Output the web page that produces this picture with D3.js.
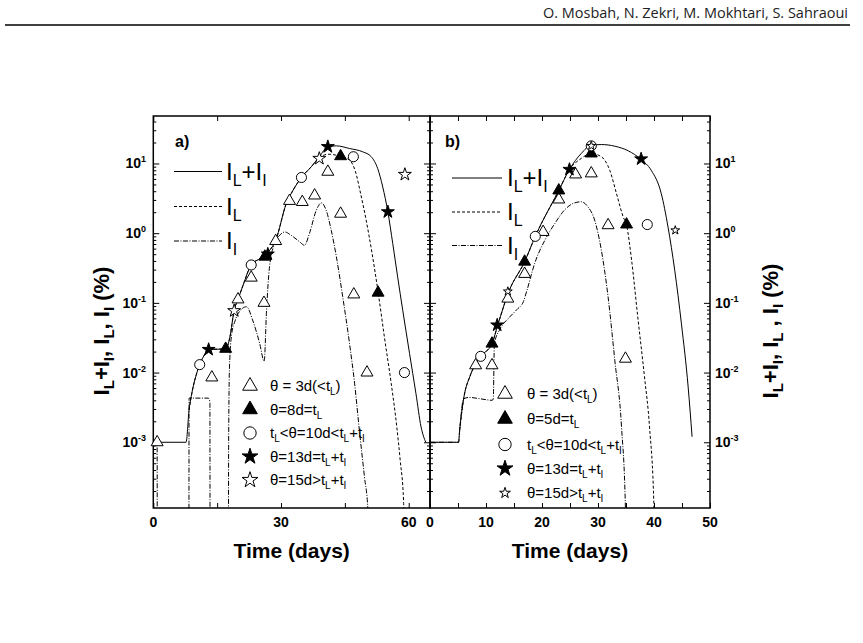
<!DOCTYPE html>
<html>
<head>
<meta charset="utf-8">
<script src="https://cdn.jsdelivr.net/npm/d3@7"></script>
<style>
	body { margin: 0; background: #fff; }
	svg { display: block; }
</style>
</head>
<body>
<svg id="chart" width="863" height="643"></svg>
<script>
const header = "O. Mosbah, N. Zekri, M. Mokhtari, S. Sahraoui";
const panelNames = ["a)", "b)"];
const yMajors = [1e-3, 1e-2, 1e-1, 1, 10];
const yExponents = ["-3", "-2", "-1", "0", "1"];
const aTicksX = [0, 15, 30, 45, 60];
const aLabelsX = [0, 30, 60];
const bTicksX = [0, 5, 10, 15, 20, 25, 30, 35, 40, 45, 50];
const bLabelsX = [0, 10, 20, 30, 40, 50];
const lineNames = ["I_{L}+I_{I}", "I_{L}", "I_{I}"];
const aLegend = ["θ = 3d(<t_{L})", "θ=8d=t_{L}", "t_{L}<θ=10d<t_{L}+t_{I}", "θ=13d=t_{L}+t_{I}", "θ=15d>t_{L}+t_{I}"];
const bLegend = ["θ = 3d(<t_{L})", "θ=5d=t_{L}", "t_{L}<θ=10d<t_{L}+t_{I}", "θ=13d=t_{L}+t_{I}", "θ=15d>t_{L}+t_{I}"];
const yTitleLeft = "I_{L}+I_{I}, I_{L}, I_{I} (%)";
const yTitleRight = "I_{L}+I_{I}, I_{L} , I_{I} (%)";
const xTitle = "Time (days)";

// panel a : [day, %]
const aTotal = [[0, 1e-3], [7.7, 1e-3], [8.4, 2.9e-3], [9.2, 5.6e-3], [10.2, 9.8e-3], [10.9, 0.0132], [12, 0.0178],
	[13, 0.0214], [17, 0.0219], [18, 0.0324], [19, 0.0785], [19.9, 0.112], [21.1, 0.18], [23, 0.35], [25, 0.43],
	[26.6, 0.51], [28.75, 0.79], [31.25, 2.67], [32.8, 4.1], [34.8, 6.3], [37.1, 8.96], [39, 12.5], [41, 17.4],
	[43, 17.9], [46.1, 16.4], [49.2, 14.7], [51.2, 12.5], [52.7, 8.5], [53.9, 4.6], [55.1, 2.02], [56.25, 0.71],
	[57.4, 0.236], [58.6, 0.078], [60.2, 0.0187], [61.7, 5e-3], [62.9, 1.66e-3], [64, 1e-3]];
const aIL = [[8.4, 2.9e-3], [9.2, 5.6e-3], [10.2, 9.8e-3], [10.9, 0.0132], [12, 0.0178], [13, 0.0214], [17, 0.0219],
	[18, 0.0324], [19, 0.0785], [19.9, 0.112], [21.1, 0.18], [23, 0.35], [25, 0.43], [26.6, 0.51], [28.75, 0.79],
	[31.25, 2.67], [32.8, 4.1], [34.8, 6.3], [37.1, 8.96], [39, 12.0], [41, 13.6], [43.9, 12.7], [46.1, 11.2],
	[47.5, 7.6], [48.7, 3.7], [50, 1.54], [51.4, 0.51], [52.8, 0.144], [54.3, 0.032], [55.9, 6.9e-3],
	[57.2, 1.66e-3], [58, 5.5e-4], [58.8, 1.4e-4], [59.2, 1e-6]];
const aII = [[0, 1e-3], [0.9, 1e-3], [0.95, 1e-6], [8.35, 1e-6], [8.4, 4.3e-3], [12.9, 4.3e-3], [13.3, 3.8e-3],
	[13.35, 1e-6], [17.6, 1e-6], [17.7, 1e-3], [17.9, 0.012], [18.4, 0.035], [19.2, 0.055], [20.3, 0.076],
	[21.9, 0.088], [23.4, 0.055], [25, 0.026], [26.05, 0.0145], [26.6, 0.078], [27.3, 0.33], [28.5, 0.71],
	[29.7, 0.935], [30.9, 1.04], [32.4, 0.93], [34.4, 0.75], [35.5, 0.67], [36.7, 1.0], [38.3, 2.14], [39.5, 2.72],
	[40.6, 2.14], [41.8, 1.1], [43, 0.46], [44.5, 0.122], [46.1, 0.026], [47.3, 6.9e-3], [48.4, 1.5e-3],
	[49.6, 3.2e-4], [50.4, 1.1e-4], [51, 1e-6]];
const aTriOpen = [[0.9, 1e-3], [13.75, 8.5e-3], [19.9, 0.112], [23, 0.23], [26, 0.1], [28.75, 0.77], [32, 2.9],
	[35, 2.8], [37.9, 3.47], [41, 7.6], [44, 1.9], [47.1, 0.132], [50.2, 0.01]];
const aTriFill = [[17, 0.0219], [26.2, 0.46], [44, 12.7], [52.8, 0.14]];
const aCircle = [[10.9, 0.013], [23, 0.35], [34.8, 6.3], [47, 12.5], [59, 0.01]];
const aStarFill = [[13, 0.0214], [26.9, 0.5], [41, 17.4], [55.1, 2.02]];
const aStarOpen = [[19, 0.077], [39, 11.8], [59.1, 6.95]];

// panel b : [day, %]
const bTotal = [[0, 1e-3], [5.1, 1e-3], [5.3, 1.5e-3], [6.07, 4.5e-3], [7.1, 8.7e-3], [8, 0.0127], [9.05, 0.0171],
	[11.07, 0.026], [12.1, 0.048], [14.05, 0.144], [16.9, 0.39], [18.8, 0.9], [23, 4.1], [24.9, 8.2], [27, 13.9],
	[28.8, 18.3], [30.6, 18.7], [33, 17.7], [35.4, 15.2], [37.7, 11.4], [39.5, 8.0], [41.3, 3.7], [42.5, 1.23],
	[43.7, 0.294], [44.9, 0.05], [46.1, 6.2e-3], [46.8, 1.2e-3]];
const bIL = [[5.3, 1.5e-3], [6.07, 4.5e-3], [7.1, 8.7e-3], [8, 0.0127], [9.05, 0.0171], [11.07, 0.026], [12.1, 0.048],
	[14.05, 0.144], [16.9, 0.39], [18.8, 0.9], [23, 4.1], [24.9, 8.2], [27, 11.8], [28.8, 13.9], [30.6, 12.5],
	[32.1, 8.0], [33.3, 3.7], [34.5, 1.71], [35.1, 1.3], [36, 0.41], [37.1, 0.063], [38.3, 8.7e-3],
	[39.2, 1.66e-3], [40, 1.1e-4], [40.3, 1e-6]];
const bII = [[0, 1e-3], [5.1, 1e-3], [5.3, 1.5e-3], [6.0, 4.2e-3], [7, 4.4e-3], [9, 4.2e-3], [11.1, 4.0e-3],
	[11.3, 4.2e-3], [11.5, 0.026], [12.5, 0.042], [14, 0.06], [15.5, 0.08], [16.7, 0.105], [17.3, 0.15],
	[18.7, 0.37], [20.5, 0.79], [22.3, 1.38], [24, 2.14], [25.8, 2.72], [27, 2.82], [28.2, 2.39], [29.4, 1.54],
	[30.6, 0.57], [31.8, 0.122], [33, 0.015], [34.2, 1.66e-3], [34.9, 1.1e-4], [35.2, 1e-6]];
const bTriOpen = [[8.15, 0.0127], [11.07, 0.0127], [13.9, 0.115], [16.9, 0.26], [20.2, 1.04], [23, 3.04],
	[26, 6.95], [28.8, 7.2], [31.8, 1.3], [34.9, 0.0158]];
const bTriFill = [[11.07, 0.026], [16.9, 0.39], [23, 4.1], [28.8, 13.9], [35.1, 1.33]];
const bCircle = [[9.05, 0.0171], [18.8, 0.9], [28.8, 17.9], [38.8, 1.33]];
const bStarFill = [[12.0, 0.048], [24.9, 8.2], [37.7, 11.6]];
const bStarOpen = [[13.9, 0.146], [28.8, 17.9], [43.8, 1.1]];

const font = '"Liberation Sans", Arial, sans-serif';
const plotTop = 116;
const plotBottom = 508;

const panels = [
	{
		left: 153.3, right: 430, domain: [0, 65], ticks: aTicksX, labels: aLabelsX,
		series: [aTotal, aIL, aII], markers: [aTriOpen, aTriFill, aCircle, aStarFill, aStarOpen],
		legend: aLegend, smallStar: false,
		nameXY: [175, 147], lineLeg: { x1: 174, x2: 222, tx: 226, ys: [171.5, 206.5, 241] },
		markLeg: { x: 250, tx: 270, ys: [386, 409.5, 433, 456.5, 480] }
	},
	{
		left: 430, right: 710, domain: [0, 50], ticks: bTicksX, labels: bLabelsX,
		series: [bTotal, bIL, bII], markers: [bTriOpen, bTriFill, bCircle, bStarFill, bStarOpen],
		legend: bLegend, smallStar: true,
		nameXY: [445, 147], lineLeg: { x1: 452, x2: 502, tx: 507, ys: [178, 212, 245.5] },
		markLeg: { x: 505, tx: 527, ys: [394, 419, 444.5, 468.5, 493] }
	}
];

const dashes = [null, '3,2', '5,1.5,1,1.5'];

const svg = d3.select('#chart');

svg.append('rect')
	.attr('width', 863)
	.attr('height', 643)
	.attr('fill', '#fff');

// running header
svg.append('text')
	.attr('x', 848)
	.attr('y', 18.3)
	.attr('text-anchor', 'end')
	.attr('textLength', 305)
	.attr('lengthAdjust', 'spacingAndGlyphs')
	.style('font-family', '"Open Sans", sans-serif')
	.style('font-size', '14px')
	.attr('fill', '#222')
	.text(header);
svg.append('line')
	.attr('x1', 5).attr('x2', 850)
	.attr('y1', 25).attr('y2', 25)
	.attr('stroke', '#000')
	.attr('stroke-width', 1.5);

// text with _{sub} parts
function richText(sel, str, subSize, shift) {
	const parts = str.split(/(_\{[^}]*\})/).filter(s => s.length);
	let down = false;
	parts.forEach(p => {
		if (p.startsWith('_{')) {
			sel.append('tspan').attr('font-size', subSize).attr('dy', shift).text(p.slice(2, -1));
			down = true;
		} else {
			const t = sel.append('tspan').text(p);
			if (down) {
				t.attr('dy', -shift);
				down = false;
			}
		}
	});
	return sel;
}

function markerStyle(i, small) {
	const styles = [
		{ type: d3.symbolTriangle, fill: '#fff', size: 62 },
		{ type: d3.symbolTriangle, fill: '#000', size: 62 },
		{ type: d3.symbolCircle, fill: '#fff', size: 80 },
		{ type: d3.symbolStar, fill: '#000', size: 52 },
		{ type: d3.symbolStar, fill: '#fff', size: small ? 24 : 52 }
	];
	return styles[i];
}

const y = d3.scaleLog()
	.domain([1.14e-4, 48])
	.range([plotBottom, plotTop]);

const yMinors = [];
[-4, -3, -2, -1, 0, 1].forEach(e => {
	for (let k = 2; k <= 9; k++) {
		const v = k * Math.pow(10, e);
		if (v >= 1.14e-4 && v <= 48) yMinors.push(v);
	}
});

panels.forEach((p, pi) => {
	const x = d3.scaleLinear()
		.domain(p.domain)
		.range([p.left, p.right]);

	const g = svg.append('g');

	g.append('clipPath')
		.attr('id', 'clip' + pi)
		.append('rect')
		.attr('x', p.left)
		.attr('y', plotTop)
		.attr('width', p.right - p.left)
		.attr('height', plotBottom - plotTop);

	const line = d3.line()
		.x(d => x(d[0]))
		.y(d => y(d[1]))
		.curve(d3.curveMonotoneX);

	g.append('g')
		.attr('clip-path', 'url(#clip' + pi + ')')
		.selectAll('path')
		.data(p.series)
		.enter()
		.append('path')
		.attr('d', line)
		.attr('fill', 'none')
		.attr('stroke', '#000')
		.attr('stroke-width', 1)
		.attr('stroke-dasharray', (d, i) => dashes[i]);

	// axes, ticks pointing inward
	const tickStyle = sel => {
		sel.select('.domain').remove();
		sel.selectAll('.tick line').attr('stroke', '#000').attr('stroke-width', 1);
	};
	g.append('g').attr('transform', `translate(${p.left},0)`)
		.call(d3.axisLeft(y).tickValues(yMajors).tickSize(-6).tickFormat('')).call(tickStyle);
	g.append('g').attr('transform', `translate(${p.left},0)`)
		.call(d3.axisLeft(y).tickValues(yMinors).tickSize(-3).tickFormat('')).call(tickStyle);
	g.append('g').attr('transform', `translate(${p.right},0)`)
		.call(d3.axisRight(y).tickValues(yMajors).tickSize(-6).tickFormat('')).call(tickStyle);
	g.append('g').attr('transform', `translate(${p.right},0)`)
		.call(d3.axisRight(y).tickValues(yMinors).tickSize(-3).tickFormat('')).call(tickStyle);
	g.append('g').attr('transform', `translate(0,${plotBottom})`)
		.call(d3.axisBottom(x).tickValues(p.ticks).tickSize(-5).tickFormat('')).call(tickStyle);
	g.append('g').attr('transform', `translate(0,${plotTop})`)
		.call(d3.axisTop(x).tickValues(p.ticks).tickSize(-5).tickFormat('')).call(tickStyle);

	g.append('rect')
		.attr('x', p.left)
		.attr('y', plotTop)
		.attr('width', p.right - p.left)
		.attr('height', plotBottom - plotTop)
		.attr('fill', 'none')
		.attr('stroke', '#000')
		.attr('stroke-width', 1.5);

	// x tick labels
	g.selectAll('.xlab')
		.data(p.labels)
		.enter()
		.append('text')
		.attr('x', d => x(d))
		.attr('y', 527)
		.attr('text-anchor', 'middle')
		.style('font-family', font)
		.style('font-size', '14px')
		.style('font-weight', 'bold')
		.text(d => d);

	g.append('text')
		.attr('x', (p.left + p.right) / 2)
		.attr('y', 558)
		.attr('text-anchor', 'middle')
		.style('font-family', font)
		.style('font-size', '21px')
		.style('font-weight', 'bold')
		.text(xTitle);

	g.append('text')
		.attr('x', p.nameXY[0])
		.attr('y', p.nameXY[1])
		.style('font-family', font)
		.style('font-size', '16px')
		.style('font-weight', 'bold')
		.text(panelNames[pi]);

	// data markers
	p.markers.forEach((pts, mi) => {
		const st = markerStyle(mi, p.smallStar);
		g.selectAll('.m' + mi)
			.data(pts)
			.enter()
			.append('path')
			.attr('transform', d => `translate(${x(d[0])},${y(d[1])})`)
			.attr('d', d3.symbol().type(st.type).size(st.size))
			.attr('fill', st.fill)
			.attr('stroke', '#000')
			.attr('stroke-width', 1);
	});

	// line legend
	p.lineLeg.ys.forEach((ly, i) => {
		g.append('line')
			.attr('x1', p.lineLeg.x1).attr('x2', p.lineLeg.x2)
			.attr('y1', ly).attr('y2', ly)
			.attr('stroke', '#000')
			.attr('stroke-width', 1)
			.attr('stroke-dasharray', dashes[i]);
		const t = g.append('text')
			.attr('x', p.lineLeg.tx)
			.attr('y', ly + 8)
			.style('font-family', font)
			.style('font-size', '24px');
		richText(t, lineNames[i], '16px', 6);
	});

	// marker legend
	p.markLeg.ys.forEach((ly, i) => {
		const st = markerStyle(i, p.smallStar);
		g.append('path')
			.attr('transform', `translate(${p.markLeg.x},${ly})`)
			.attr('d', d3.symbol().type(st.type).size(st.size * 1.5))
			.attr('fill', st.fill)
			.attr('stroke', '#000')
			.attr('stroke-width', 1);
		const t = g.append('text')
			.attr('x', p.markLeg.tx)
			.attr('y', ly + 5)
			.style('font-family', font)
			.style('font-size', '15px');
		richText(t, p.legend[i], '10px', 4);
	});
});

// y tick labels: left of panel a, right of panel b
function powerLabel(xPos, anchor) {
	yMajors.forEach((v, i) => {
		const t = svg.append('text')
			.attr('x', xPos)
			.attr('y', y(v) + 5)
			.attr('text-anchor', anchor)
			.style('font-family', font)
			.style('font-size', '14px')
			.style('font-weight', 'bold');
		t.append('tspan').text('10');
		t.append('tspan').attr('dy', -6).attr('font-size', '9px').text(yExponents[i]);
	});
}
powerLabel(146, 'end');
powerLabel(715, 'start');

// y titles
const tl = svg.append('text')
	.attr('transform', 'translate(109,331) rotate(-90)')
	.attr('text-anchor', 'middle')
	.style('font-family', font)
	.style('font-size', '22px')
	.style('font-weight', 'bold');
richText(tl, yTitleLeft, '15px', 5);

const tr = svg.append('text')
	.attr('transform', 'translate(778,331) rotate(-90)')
	.attr('text-anchor', 'middle')
	.style('font-family', font)
	.style('font-size', '22px')
	.style('font-weight', 'bold');
richText(tr, yTitleRight, '15px', 5);
</script>
</body>
</html>
